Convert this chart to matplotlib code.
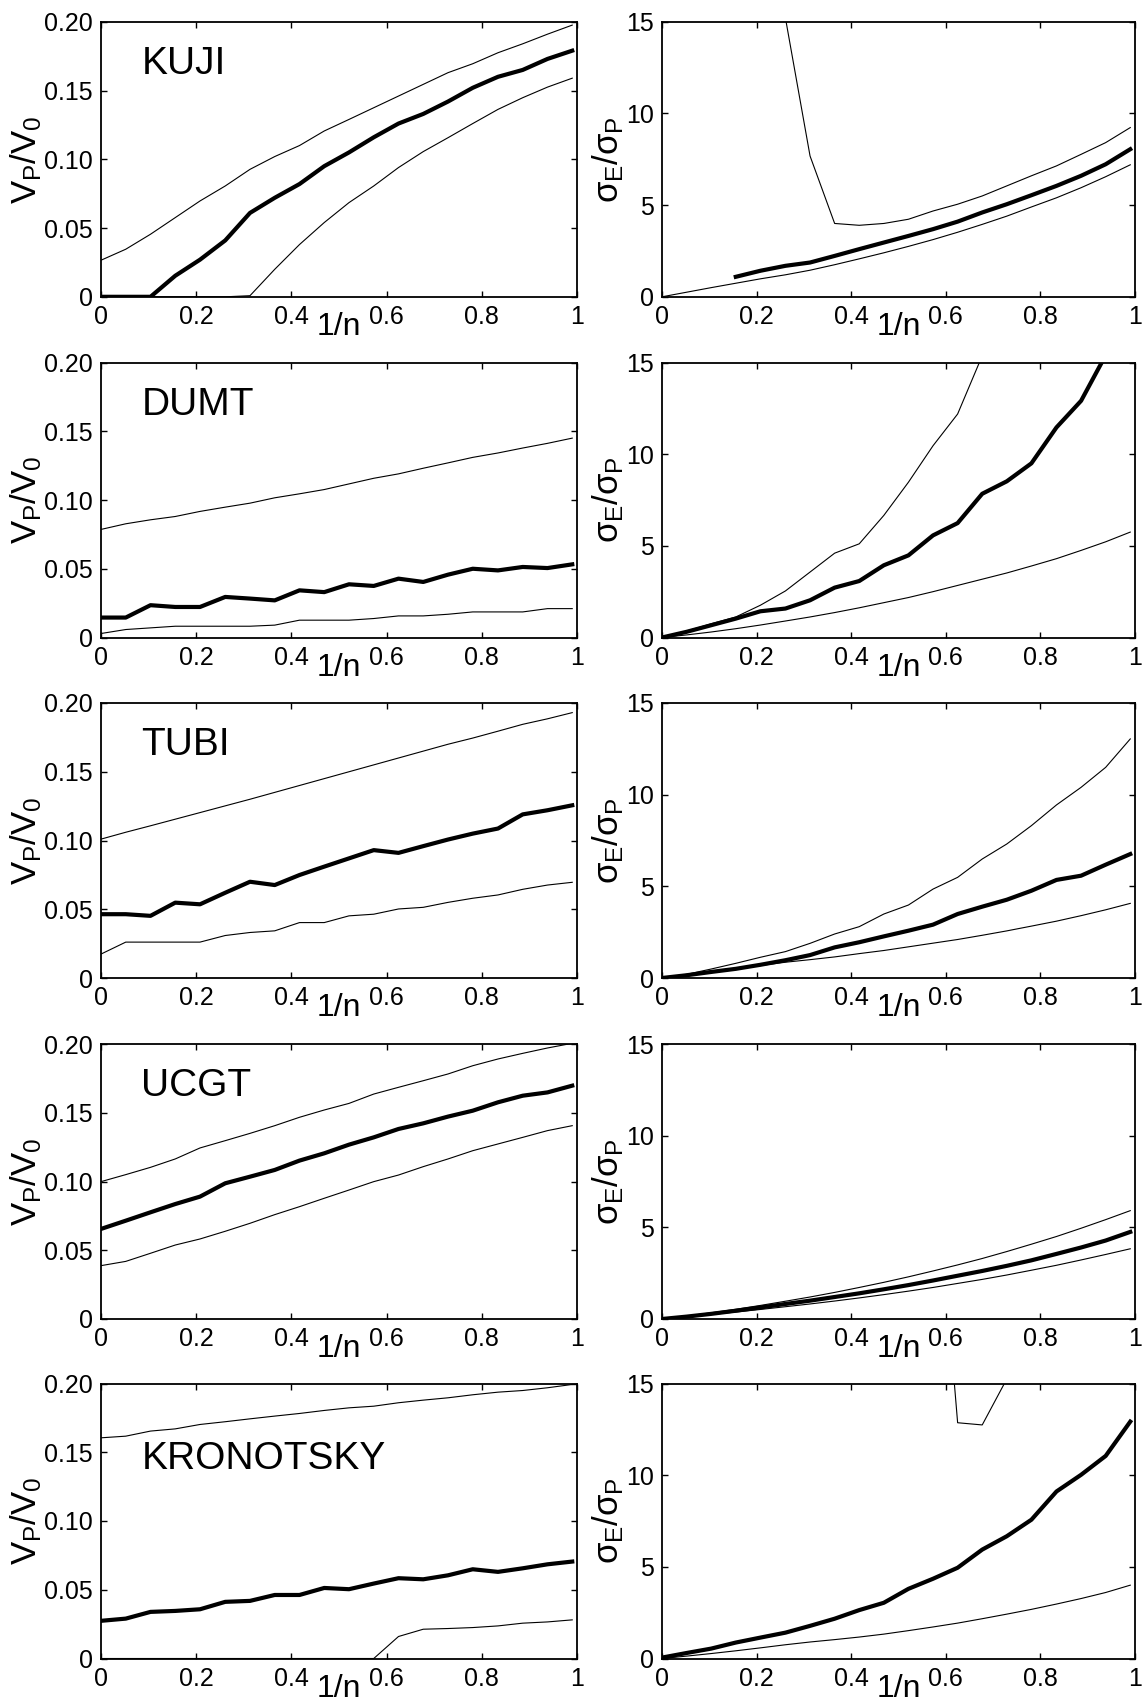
import numpy as np
import matplotlib
matplotlib.use("Agg")
import matplotlib.pyplot as plt

plt.rcParams['font.family'] = ['Liberation Sans', 'DejaVu Sans']
plt.rcParams['mathtext.fontset'] = 'custom'
plt.rcParams['mathtext.rm'] = 'Liberation Sans'
plt.rcParams['mathtext.it'] = 'Liberation Sans'
plt.rcParams['mathtext.sf'] = 'Liberation Sans'

nan = np.nan

# 1/n grid shared by every panel
inv_n = [0.0, 0.052, 0.104, 0.156, 0.208, 0.261, 0.313, 0.365, 0.417, 0.469,
         0.521, 0.573, 0.625, 0.677, 0.729, 0.781, 0.834, 0.886, 0.938, 0.99]

stations = ['KUJI', 'DUMT', 'TUBI', 'UCGT', 'KRONOTSKY']

# V_P/V_0: best estimate (mid) with lower / upper bounds
kuji_vp_mid = [0, 0, 0, 0.0153, 0.027, 0.041, 0.061, 0.072, 0.082, 0.095,
               0.105, 0.116, 0.126, 0.133, 0.142, 0.152, 0.160, 0.165, 0.173, 0.179]
kuji_vp_lo = [0, 0, 0, 0, 0, 0, 0.0008, 0.020, 0.038, 0.054,
              0.0685, 0.0806, 0.094, 0.1056, 0.1157, 0.126, 0.1363, 0.1448, 0.1525, 0.159]
kuji_vp_hi = [0.0266, 0.0346, 0.0455, 0.0576, 0.0697, 0.0806, 0.0927, 0.102, 0.110, 0.1206,
              0.129, 0.1375, 0.146, 0.1545, 0.163, 0.1695, 0.1775, 0.184, 0.191, 0.1976]

dumt_vp_mid = [0.0145, 0.0145, 0.0235, 0.0222, 0.0222, 0.0295, 0.0283, 0.027, 0.0343, 0.033,
               0.0387, 0.0375, 0.0428, 0.0404, 0.0457, 0.050, 0.0488, 0.0513, 0.0505, 0.0532]
dumt_vp_lo = [0.0029, 0.0058, 0.007, 0.0082, 0.0082, 0.0082, 0.0082, 0.009, 0.0126, 0.0126,
              0.0126, 0.0138, 0.0157, 0.0157, 0.0169, 0.0186, 0.0186, 0.0186, 0.021, 0.021]
dumt_vp_hi = [0.0786, 0.0827, 0.0856, 0.088, 0.0917, 0.0948, 0.0977, 0.1016, 0.1045, 0.1076,
              0.1117, 0.1158, 0.119, 0.1231, 0.127, 0.131, 0.1342, 0.1378, 0.1412, 0.145]

tubi_vp_mid = [0.0464, 0.0464, 0.0452, 0.0548, 0.0536, 0.062, 0.070, 0.0676, 0.0749, 0.081,
               0.087, 0.093, 0.091, 0.0959, 0.1007, 0.105, 0.1087, 0.119, 0.122, 0.1256]
tubi_vp_lo = [0.0174, 0.0261, 0.0261, 0.0261, 0.0261, 0.0309, 0.0331, 0.0343, 0.0403, 0.0403,
              0.0452, 0.0464, 0.0502, 0.0514, 0.055, 0.058, 0.0604, 0.0645, 0.0676, 0.0696]
tubi_vp_hi = [0.101, 0.106, 0.1107, 0.1155, 0.1203, 0.1252, 0.130, 0.135, 0.140, 0.145,
              0.150, 0.155, 0.160, 0.165, 0.170, 0.1745, 0.1795, 0.1845, 0.1885, 0.193]

ucgt_vp_mid = [0.0655, 0.0715, 0.0776, 0.0836, 0.089, 0.0987, 0.1035, 0.1084, 0.1152, 0.1205,
               0.1268, 0.1321, 0.1382, 0.1423, 0.1472, 0.1515, 0.1576, 0.1624, 0.1648, 0.1697]
ucgt_vp_lo = [0.0388, 0.0419, 0.0478, 0.0538, 0.0582, 0.0638, 0.0696, 0.0759, 0.0817, 0.0878,
              0.0938, 0.0999, 0.1047, 0.1108, 0.1164, 0.1224, 0.1273, 0.1321, 0.137, 0.1406]
ucgt_vp_hi = [0.0999, 0.105, 0.1103, 0.1164, 0.1244, 0.1297, 0.135, 0.1406, 0.1467, 0.152,
              0.1568, 0.1636, 0.1685, 0.1733, 0.1782, 0.1842, 0.1891, 0.1932, 0.1971, 0.2005]

kron_vp_mid = [0.0274, 0.029, 0.0339, 0.0346, 0.0358, 0.0412, 0.0419, 0.0462, 0.0462, 0.0513,
               0.0504, 0.0545, 0.0584, 0.0576, 0.0605, 0.0649, 0.063, 0.0656, 0.0685, 0.0705]
kron_vp_lo = [0, 0, 0, 0, 0, 0, 0, 0, 0, 0,
              0, 0, 0.016, 0.0213, 0.0218, 0.0225, 0.0237, 0.0257, 0.0266, 0.0281]
kron_vp_hi = [0.1605, 0.1617, 0.1654, 0.167, 0.1702, 0.1722, 0.1743, 0.1763, 0.1782, 0.1804,
              0.1823, 0.1835, 0.186, 0.1879, 0.1896, 0.1918, 0.1937, 0.1949, 0.1969, 0.1993]

# sigma_E/sigma_P: best estimate (mid) with lower / upper bounds
kuji_sr_mid = [nan, nan, nan, 1.09, 1.42, 1.69, 1.87, 2.23, 2.6, 2.96,
               3.32, 3.69, 4.1, 4.6, 5.05, 5.54, 6.05, 6.6, 7.23, 8.05]
kuji_sr_lo = [0, 0.25, 0.5, 0.74, 0.98, 1.2, 1.45, 1.75, 2.07, 2.4,
              2.75, 3.12, 3.52, 3.95, 4.4, 4.9, 5.4, 5.95, 6.55, 7.2]
kuji_sr_hi = [nan, nan, nan, nan, nan, 15.2, 7.68, 4.0, 3.9, 4.0,
              4.23, 4.68, 5.05, 5.5, 6.05, 6.6, 7.14, 7.77, 8.41, 9.23]

dumt_sr_mid = [0, 0.31, 0.67, 1.03, 1.43, 1.58, 2.03, 2.72, 3.08, 3.94,
               4.48, 5.57, 6.24, 7.84, 8.52, 9.5, 11.46, 12.91, 15.4, 18.0]
dumt_sr_lo = [0, 0.14, 0.3, 0.48, 0.68, 0.9, 1.12, 1.36, 1.62, 1.9,
              2.18, 2.5, 2.84, 3.18, 3.52, 3.9, 4.3, 4.75, 5.22, 5.75]
dumt_sr_hi = [0, 0.35, 0.75, 1.12, 1.76, 2.54, 3.57, 4.6, 5.11, 6.66,
              8.47, 10.46, 12.19, 15.37, nan, nan, nan, nan, nan, nan]

tubi_sr_mid = [0, 0.15, 0.33, 0.5, 0.72, 0.97, 1.25, 1.67, 1.95, 2.27,
               2.58, 2.91, 3.49, 3.89, 4.27, 4.76, 5.35, 5.58, 6.18, 6.76]
tubi_sr_lo = [0, 0.16, 0.33, 0.5, 0.68, 0.86, 1.0, 1.15, 1.33, 1.5,
              1.7, 1.9, 2.1, 2.33, 2.57, 2.83, 3.1, 3.4, 3.72, 4.07]
tubi_sr_hi = [0, 0.2, 0.49, 0.8, 1.13, 1.44, 1.89, 2.4, 2.8, 3.49,
              3.98, 4.85, 5.49, 6.49, 7.31, 8.31, 9.44, 10.4, 11.49, 13.04]

ucgt_sr_mid = [0, 0.13, 0.28, 0.45, 0.63, 0.82, 1.0, 1.2, 1.4, 1.62,
               1.85, 2.1, 2.36, 2.62, 2.9, 3.2, 3.55, 3.9, 4.28, 4.75]
ucgt_sr_lo = [0, 0.12, 0.25, 0.38, 0.52, 0.67, 0.82, 0.98, 1.15, 1.33,
              1.52, 1.72, 1.94, 2.16, 2.4, 2.66, 2.93, 3.22, 3.52, 3.83]
ucgt_sr_hi = [0, 0.16, 0.34, 0.53, 0.74, 0.97, 1.2, 1.45, 1.72, 2.0,
              2.3, 2.62, 2.95, 3.3, 3.68, 4.08, 4.5, 4.95, 5.42, 5.91]

kron_sr_mid = [0.05, 0.3, 0.54, 0.87, 1.14, 1.41, 1.78, 2.17, 2.64, 3.04,
               3.8, 4.35, 4.95, 5.94, 6.67, 7.57, 9.11, 10.02, 11.05, 12.92]
kron_sr_lo = [0, 0.13, 0.27, 0.42, 0.58, 0.75, 0.9, 1.03, 1.17, 1.33,
              1.52, 1.72, 1.93, 2.17, 2.42, 2.68, 2.97, 3.27, 3.6, 4.0]
kron_sr_hi = [nan, nan, nan, nan, nan, nan, nan, nan, nan, nan,
              nan, 29.0, 12.86, 12.74, 15.25, nan, nan, nan, nan, nan]

vp_series = [(kuji_vp_mid, kuji_vp_lo, kuji_vp_hi),
             (dumt_vp_mid, dumt_vp_lo, dumt_vp_hi),
             (tubi_vp_mid, tubi_vp_lo, tubi_vp_hi),
             (ucgt_vp_mid, ucgt_vp_lo, ucgt_vp_hi),
             (kron_vp_mid, kron_vp_lo, kron_vp_hi)]
sr_series = [(kuji_sr_mid, kuji_sr_lo, kuji_sr_hi),
             (dumt_sr_mid, dumt_sr_lo, dumt_sr_hi),
             (tubi_sr_mid, tubi_sr_lo, tubi_sr_hi),
             (ucgt_sr_mid, ucgt_sr_lo, ucgt_sr_hi),
             (kron_sr_mid, kron_sr_lo, kron_sr_hi)]

# station name height (axes fraction of the baseline)
name_y = [0.81, 0.81, 0.81, 0.81, 0.69]

x_ticks = [0, 0.2, 0.4, 0.6, 0.8, 1]
x_ticklabels = ['0', '0.2', '0.4', '0.6', '0.8', '1']
vp_ticks = [0, 0.05, 0.10, 0.15, 0.20]
vp_ticklabels = ['0', '0.05', '0.10', '0.15', '0.20']
sr_ticks = [0, 5, 10, 15]
sr_ticklabels = ['0', '5', '10', '15']

W, H = 1144, 1707
fig = plt.figure(figsize=(W / 100, H / 100), dpi=100)

row_tops = [21.8, 362.5, 703.0, 1044.0, 1383.5]
row_h = 275.0
col_left = [(101, 476), (662, 473)]


def style_axes(ax, yticks, yticklabels, ylim, ylabel):
    ax.set_xlim(0, 1)
    ax.set_ylim(*ylim)
    ax.set_xticks(x_ticks)
    ax.set_xticklabels(x_ticklabels)
    ax.set_yticks(yticks)
    ax.set_yticklabels(yticklabels)
    ax.tick_params(direction='in', top=True, right=True, length=4, width=1,
                   labelsize=18, pad=6)
    for sp in ax.spines.values():
        sp.set_linewidth(1.3)
    ax.set_ylabel(ylabel, fontsize=25, labelpad=0)
    ax.set_xlabel('1/n', fontsize=23)
    ax.xaxis.set_label_coords(0.5, -0.055)


for i, name in enumerate(stations):
    bottom = 1 - (row_tops[i] + row_h) / H
    h = row_h / H

    # left column: V_P/V_0
    x0, w = col_left[0]
    ax = fig.add_axes([x0 / W, bottom, w / W, h])
    mid, lo, hi = vp_series[i]
    ax.plot(inv_n, hi, color='black', lw=0.8, zorder=3)
    ax.plot(inv_n, lo, color='black', lw=0.8, zorder=3)
    ax.plot(inv_n, mid, color='black', lw=3.0, zorder=3)
    style_axes(ax, vp_ticks, vp_ticklabels, (0, 0.2), r'$\mathrm{V_P/V_0}$')
    ax.text(0.085, name_y[i], name, transform=ax.transAxes, fontsize=28,
            ha='left', va='baseline')

    # right column: sigma_E/sigma_P
    x0, w = col_left[1]
    ax = fig.add_axes([x0 / W, bottom, w / W, h])
    mid, lo, hi = sr_series[i]
    ax.plot(inv_n, hi, color='black', lw=0.8, zorder=3)
    ax.plot(inv_n, lo, color='black', lw=0.8, zorder=3)
    ax.plot(inv_n, mid, color='black', lw=3.0, zorder=3)
    style_axes(ax, sr_ticks, sr_ticklabels, (0, 15), r'$\sigma_E/\sigma_P$')

fig.savefig('out.png', dpi=100)
